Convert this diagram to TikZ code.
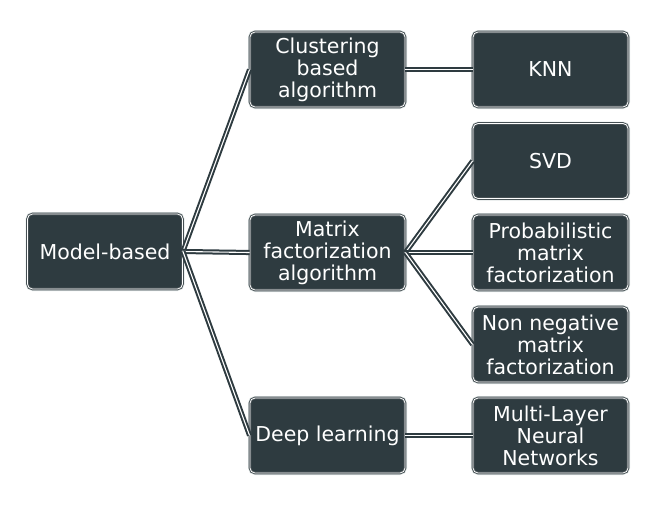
\documentclass[tikz,border=0pt]{standalone}
\usepackage{fontspec}
\setmainfont{DejaVu Sans}
\definecolor{boxfill}{RGB}{46,59,64}
\definecolor{halo}{RGB}{226,231,231}
\definecolor{edge}{RGB}{70,80,84}
\begin{document}
\begin{tikzpicture}[x=1pt,y=-1pt,
  box/.style={
    preaction={draw=halo, line width=4pt, rounded corners=5pt},
    fill=boxfill, draw=edge, double=white, double distance=0.8pt, line width=0.9pt,
    rounded corners=5pt, minimum width=155pt, minimum height=75pt,
    text=white, align=center, inner sep=0pt,
    font=\fontsize{20.5}{22}\selectfont},
  link/.style={draw=boxfill, double=white, double distance=1.1pt, line width=2pt}
]
\useasboundingbox (0,0) rectangle (669,509);
\node[box] (mb)  at (105,251.5) {Model-based};
\node[box] (cl)  at (327.5,69.5) {Clustering\\based\\algorithm};
\node[box] (mf)  at (327.5,252.5) {Matrix\\factorization\\algorithm};
\node[box] (dl)  at (327.5,435.5) {Deep learning};
\node[box] (knn) at (550.5,69.5) {KNN};
\node[box] (svd) at (550.5,161) {SVD};
\node[box] (pmf) at (550.5,252.5) {Probabilistic\\matrix\\factorization};
\node[box] (nmf) at (550.5,344.5) {Non negative\\matrix\\factorization};
\node[box] (mln) at (550.5,435.5) {Multi-Layer\\Neural\\Networks};
\draw[link] (mb.east) -- (cl.west);
\draw[link] (mb.east) -- (mf.west);
\draw[link] (mb.east) -- (dl.west);
\draw[link] (cl.east) -- (knn.west);
\draw[link] (mf.east) -- (svd.west);
\draw[link] (mf.east) -- (pmf.west);
\draw[link] (mf.east) -- (nmf.west);
\draw[link] (dl.east) -- (mln.west);
\end{tikzpicture}
\end{document}
